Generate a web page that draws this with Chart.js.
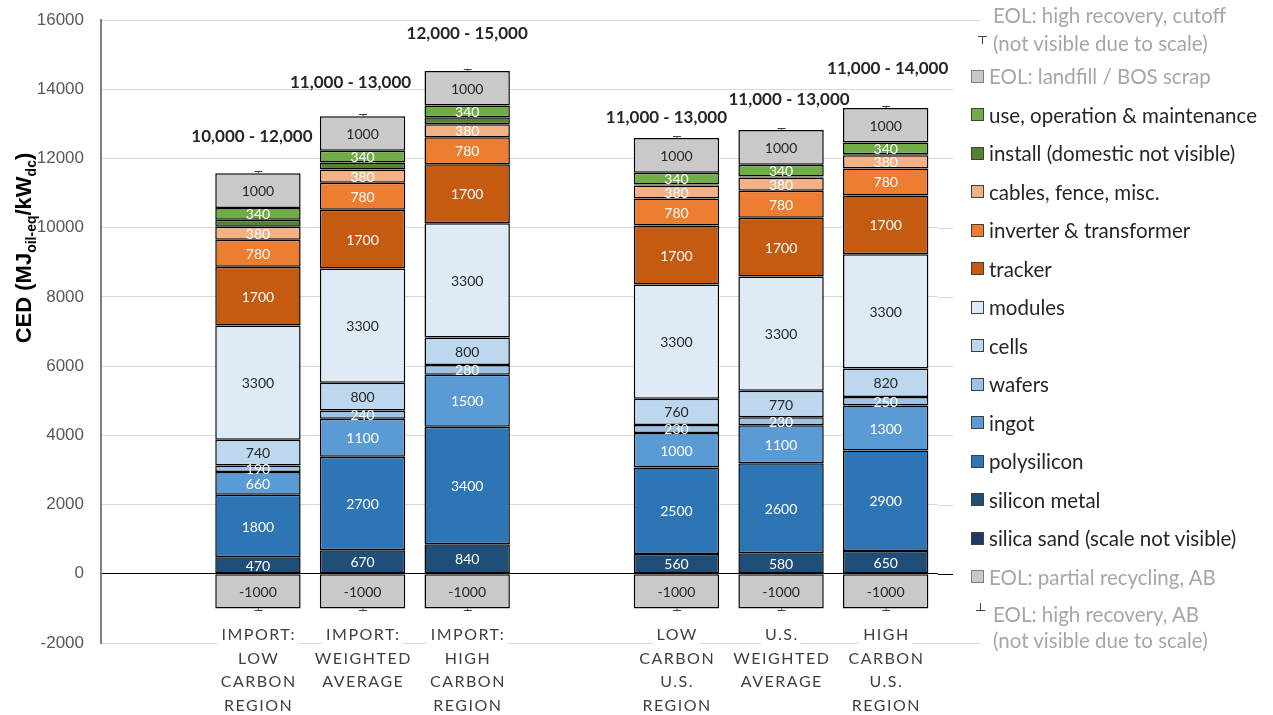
<!DOCTYPE html>
<html>
<head>
<meta charset="utf-8">
<script src="https://cdn.jsdelivr.net/npm/chart.js@4.4.1/dist/chart.umd.min.js"></script>
<style>
  body { margin: 0; background: #fff; }
  #wrap { position: relative; width: 1273px; height: 715px; }
  #legend { position: absolute; left: 0; top: 0; font-family: Lato, sans-serif; font-size: 20.5px; }
  .row { position: absolute; height: 24px; line-height: 24px; white-space: nowrap; display: flex; align-items: center; }
  .sw { width: 11px; height: 11px; border: 1px solid #404040; margin-right: 5px; flex: none; }
  .eb { position: absolute; width: 9px; height: 8px; }
  .eb .stem { position: absolute; left: 4px; width: 1px; height: 8px; background: #404040; }
  .eb .cap { position: absolute; left: 0; width: 9px; height: 1px; background: #404040; }
</style>
</head>
<body>
<div id="wrap">
  <canvas id="chart" width="1273" height="715"></canvas>
  <div id="legend"></div>
</div>
<script>
// categories (empty slots keep the gaps between the groups)
const categories = [
  [''],
  ['IMPORT:', 'LOW', 'CARBON', 'REGION'],
  ['IMPORT:', 'WEIGHTED', 'AVERAGE'],
  ['IMPORT:', 'HIGH', 'CARBON', 'REGION'],
  [''],
  ['LOW', 'CARBON', 'U.S.', 'REGION'],
  ['U.S.', 'WEIGHTED', 'AVERAGE'],
  ['HIGH', 'CARBON', 'U.S.', 'REGION']
];

// stacked values, bottom to top
const silicaSand   = [null, 10, 10, 10, null, 10, 10, 10];
const siliconMetal = [null, 470, 670, 840, null, 560, 580, 650];
const polysilicon  = [null, 1800, 2700, 3400, null, 2500, 2600, 2900];
const ingot        = [null, 660, 1100, 1500, null, 1000, 1100, 1300];
const wafers       = [null, 190, 240, 280, null, 230, 230, 250];
const cells        = [null, 740, 800, 800, null, 760, 770, 820];
const modules      = [null, 3300, 3300, 3300, null, 3300, 3300, 3300];
const tracker      = [null, 1700, 1700, 1700, null, 1700, 1700, 1700];
const inverter     = [null, 780, 780, 780, null, 780, 780, 780];
const cables       = [null, 380, 380, 380, null, 380, 380, 380];
const install      = [null, 200, 200, 200, null, 30, 30, 30];
const useOM        = [null, 340, 340, 340, null, 340, 340, 340];
const eolLandfill  = [null, 1000, 1000, 1000, null, 1000, 1000, 1000];
const eolPartial   = [null, -1000, -1000, -1000, null, -1000, -1000, -1000];

// tiny error bars (not visible due to scale)
const cutoffSpread = [null, 60, 60, 60, null, 60, 60, 60];
const abSpread     = [null, 60, 60, 60, null, 60, 60, 60];

const rangeLabels = [null, '10,000 - 12,000', '11,000 - 13,000', '12,000 - 15,000', null,
  '11,000 - 13,000', '11,000 - 13,000', '11,000 - 14,000'];

const yTicks = [-2000, 0, 2000, 4000, 6000, 8000, 10000, 12000, 14000, 16000];

// pixel nudges for the hand placed range labels [dx, dy from bar top]
const rangeNudge = [null, [-6, -37], [-12, -34], [0, -37], null, [-10, -21], [8, -31], [2, -39]];

const DARK = '#262626';
const WHITE = '#ffffff';
const GREY_TXT = '#a6a6a6';

function series(label, data, color, valueColor) {
  return {
    label: label,
    data: data,
    backgroundColor: color,
    borderColor: '#000000',
    borderWidth: 1.5,
    borderSkipped: false,
    valueColor: valueColor,
    barPercentage: 0.816,
    categoryPercentage: 1.0
  };
}

const datasets = [
  series('silica sand (scale not visible)', silicaSand, '#203864', null),
  series('silicon metal', siliconMetal, '#1f4e79', WHITE),
  series('polysilicon', polysilicon, '#2e75b6', WHITE),
  series('ingot', ingot, '#5b9bd5', WHITE),
  series('wafers', wafers, '#9dc3e6', WHITE),
  series('cells', cells, '#bdd7ee', DARK),
  series('modules', modules, '#deebf7', DARK),
  series('tracker', tracker, '#c55a11', WHITE),
  series('inverter & transformer', inverter, '#ed7d31', WHITE),
  series('cables, fence, misc.', cables, '#f4b183', WHITE),
  series('install (domestic not visible)', install, '#548235', null),
  series('use, operation & maintenance', useOM, '#70ad47', WHITE),
  series('EOL: landfill / BOS scrap', eolLandfill, '#c9c9c9', DARK),
  series('EOL: partial recycling, AB', eolPartial, '#c9c9c9', DARK)
];

// values inside the segments, error whiskers and range labels
const barDecor = {
  id: 'barDecor',
  afterDatasetsDraw(chart) {
    const ctx = chart.ctx;
    const y = chart.scales.y;
    ctx.save();
    ctx.font = '14px Lato';
    ctx.textAlign = 'center';
    ctx.textBaseline = 'middle';
    chart.data.datasets.forEach((ds, i) => {
      if (!ds.valueColor) return;
      chart.getDatasetMeta(i).data.forEach((bar, j) => {
        if (ds.data[j] == null) return;
        ctx.fillStyle = ds.valueColor;
        ctx.fillText(String(ds.data[j]), bar.x, (bar.y + bar.base) / 2 + 1);
      });
    });

    const topMeta = chart.getDatasetMeta(chart.data.datasets.length - 2);
    ctx.strokeStyle = '#404040';
    ctx.lineWidth = 1;
    topMeta.data.forEach((bar, j) => {
      if (rangeLabels[j] == null) return;
      let total = 0;
      chart.data.datasets.forEach(ds => { if (ds.data[j] > 0) total += ds.data[j]; });
      const yTop = y.getPixelForValue(total);
      const yUp = y.getPixelForValue(total + cutoffSpread[j]);
      const yBot = y.getPixelForValue(eolPartial[j]);
      const yDown = y.getPixelForValue(eolPartial[j] - abSpread[j]);
      ctx.beginPath();
      ctx.moveTo(bar.x + 0.5, yTop); ctx.lineTo(bar.x + 0.5, yUp);
      ctx.moveTo(bar.x - 3.5, Math.round(yUp) + 0.5); ctx.lineTo(bar.x + 4.5, Math.round(yUp) + 0.5);
      ctx.moveTo(bar.x + 0.5, yBot); ctx.lineTo(bar.x + 0.5, yDown);
      ctx.moveTo(bar.x - 3.5, Math.round(yDown) + 0.5); ctx.lineTo(bar.x + 4.5, Math.round(yDown) + 0.5);
      ctx.stroke();

      ctx.font = 'bold 17px Lato';
      ctx.fillStyle = DARK;
      ctx.fillText(rangeLabels[j], bar.x + rangeNudge[j][0], yTop + rangeNudge[j][1]);
    });
    ctx.restore();
  }
};

// gridlines run on past the category area, under the legend
const gridRunOn = {
  id: 'gridRunOn',
  beforeDatasetsDraw(chart) {
    const ctx = chart.ctx;
    const y = chart.scales.y;
    const right = chart.chartArea.right;
    ctx.save();
    ctx.lineWidth = 1;
    yTicks.forEach(v => {
      const py = Math.round(y.getPixelForValue(v)) + 0.5;
      const end = (v === 16000 || v === -2000) ? 980 : 953;
      ctx.strokeStyle = v === 0 ? '#000000' : '#d9d9d9';
      ctx.beginPath();
      ctx.moveTo(right, py);
      ctx.lineTo(end, py);
      ctx.stroke();
    });
    ctx.restore();
  }
};

// multi-line category labels with letter spacing
const xLabels = {
  id: 'xLabels',
  afterDraw(chart) {
    const ctx = chart.ctx;
    const x = chart.scales.x;
    const top = chart.chartArea.bottom - 8;
    ctx.save();
    ctx.font = '16px Lato';
    ctx.letterSpacing = '1.5px';
    ctx.textAlign = 'center';
    ctx.textBaseline = 'middle';
    categories.forEach((lines, j) => {
      const px = x.getPixelForValue(j);
      lines.forEach((t, k) => {
        if (!t) return;
        const py = top + k * 23.5;
        const w = ctx.measureText(t).width;
        ctx.fillStyle = '#ffffff';
        ctx.fillRect(px - w / 2 - 3, py - 9, w + 6, 18);
        ctx.fillStyle = '#404040';
        ctx.fillText(t, px + 0.75, py);
      });
    });
    ctx.restore();
  }
};

// rotated axis title with subscripts
const yTitle = {
  id: 'yTitle',
  afterDraw(chart) {
    const ctx = chart.ctx;
    const parts = [['CED (MJ', 22, 0], ['oil-eq', 14, 5], ['/kW', 22, 0], ['dc', 14, 5], [')', 22, 0]];
    ctx.save();
    ctx.translate(0, 248);
    ctx.rotate(-Math.PI / 2);
    ctx.fillStyle = '#000000';
    ctx.textBaseline = 'alphabetic';
    let w = 0;
    parts.forEach(p => { ctx.font = 'bold ' + p[1] + 'px "Liberation Sans"'; w += ctx.measureText(p[0]).width; });
    let cx = -w / 2;
    parts.forEach(p => {
      ctx.font = 'bold ' + p[1] + 'px "Liberation Sans"';
      ctx.fillText(p[0], cx, 31 + p[2]);
      cx += ctx.measureText(p[0]).width;
    });
    ctx.restore();
  }
};

new Chart(document.getElementById('chart'), {
  type: 'bar',
  data: { labels: categories, datasets: datasets },
  options: {
    responsive: false,
    animation: false,
    devicePixelRatio: 1,
    layout: { padding: { left: 0, top: 20, right: 335, bottom: 72 } },
    plugins: { legend: { display: false }, tooltip: { enabled: false } },
    scales: {
      x: { stacked: true, display: false },
      y: {
        stacked: true,
        min: -2000,
        max: 16000,
        afterFit: s => { s.width = 101; s.paddingTop = 10; s.paddingBottom = 10; },
        afterBuildTicks: s => { s.ticks = yTicks.map(v => ({ value: v })); },
        ticks: {
          color: '#595959',
          font: { family: 'Liberation Sans', size: 17 },
          padding: 17,
          callback: v => String(v)
        },
        grid: {
          drawTicks: false,
          color: c => (c.tick && c.tick.value === 0 ? '#000000' : '#d9d9d9')
        },
        border: { color: '#7f7f7f', width: 2 }
      }
    }
  },
  plugins: [gridRunOn, barDecor, xLabels, yTitle]
});

// legend on the right, top of the stack first
const legendEl = document.getElementById('legend');
function row(top, left, html, color) {
  const d = document.createElement('div');
  d.className = 'row';
  d.style.top = (top - 12) + 'px';
  d.style.left = left + 'px';
  d.style.color = color;
  d.innerHTML = html;
  legendEl.appendChild(d);
}
function errSymbol(left, top, flipped) {
  const d = document.createElement('div');
  d.className = 'eb';
  d.style.left = left + 'px';
  d.style.top = top + 'px';
  d.innerHTML = '<div class="stem" style="top:0"></div><div class="cap" style="' + (flipped ? 'bottom:0' : 'top:0') + '"></div>';
  legendEl.appendChild(d);
}
const greyNames = ['EOL: landfill / BOS scrap', 'EOL: partial recycling, AB'];
row(15, 993, 'EOL: high recovery, cutoff', GREY_TXT);
row(43, 993, '(not visible due to scale)', GREY_TXT);
errSymbol(978, 36, false);
const order = datasets.slice(0, datasets.length - 1).reverse().concat([datasets[datasets.length - 1]]);
order.forEach((ds, i) => {
  const grey = greyNames.includes(ds.label);
  row(76 + i * 38.5, 971,
    '<span class="sw" style="background:' + ds.backgroundColor + ';border-color:' + (grey ? '#7f7f7f' : '#404040') + '"></span>' + ds.label,
    grey ? GREY_TXT : DARK);
});
row(614, 993, 'EOL: high recovery, AB', GREY_TXT);
row(640, 993, '(not visible due to scale)', GREY_TXT);
errSymbol(976, 603, true);
</script>
</body>
</html>
